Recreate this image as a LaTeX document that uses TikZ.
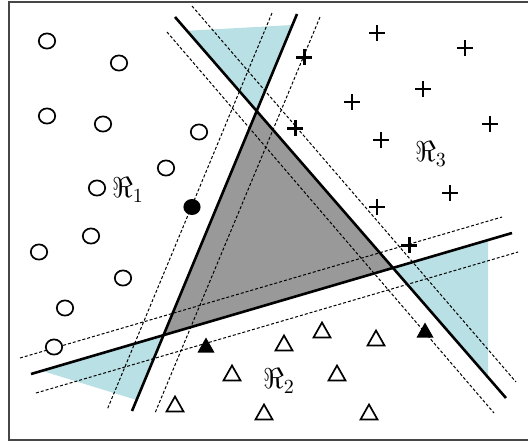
\documentclass[tikz,border=0pt]{standalone}
\usepackage{amssymb}
\definecolor{marginblue}{RGB}{185,224,228}
\definecolor{coregray}{RGB}{153,153,153}
\definecolor{framegray}{RGB}{70,70,70}
\begin{document}
\begin{tikzpicture}[
  x=0.5pt, y=-0.5pt,
  separator/.style={line width=1.3pt},
  marginline/.style={line width=0.5pt, dash pattern=on 1.5pt off 1pt},
  hollowmark/.style={line width=0.85pt},
  supportmark/.style={line width=1.5pt},
  every node/.style={font=\Large, inner sep=0pt}
]
  \clip (0,0) rectangle (528,441);
  % corners of the inner triangle
  \coordinate (ab) at (256.7,111.0);
  \coordinate (bc) at (163.4,335.4);
  \coordinate (ac) at (393.3,268.6);

  % ambiguous zones
  \fill[marginblue] (187,30.8) -- (292.4,25) -- (ab) -- cycle;
  \fill[marginblue] (42,370.8) -- (bc) -- (136.6,400) -- cycle;
  \fill[marginblue] (ac) -- (488,240.7) -- (488,377.3) -- cycle;
  \fill[coregray] (ab) -- (bc) -- (ac) -- cycle;

  % margins
  \draw[marginline] (192,6) -- (516,382);
  \draw[marginline] (167,32) -- (494,413);
  \draw[marginline] (272,13) -- (107,410);
  \draw[marginline] (320,17) -- (155,413);
  \draw[marginline] (20,358) -- (502,217);
  \draw[marginline] (36,393) -- (518,252);

  % separating lines
  \draw[separator] (175,17) -- (506,398);
  \draw[separator] (297,14) -- (132,411);
  \draw[separator] (31,374) -- (512,233);

  % class 1
  \foreach \px/\py in {47/41, 119/63, 47/116, 103/124, 199/132, 166/168,
                       97/188, 91/236, 39/252, 123/278, 65/308, 54/347}
    \draw[hollowmark, fill=white] (\px,\py) ellipse [x radius=4.1pt, y radius=3.8pt];
  \fill (192,207) ellipse [x radius=4.3pt, y radius=4pt];

  % class 3
  \foreach \px/\py in {377/33, 465/48, 423/89, 352/102, 490/124, 381/140,
                       450/193, 377/207}
    \draw[hollowmark] (\px-8,\py) -- (\px+8,\py) (\px,\py-8) -- (\px,\py+8);
  \foreach \px/\py in {304/57, 295/128, 409/245}
    \draw[supportmark] (\px-8,\py) -- (\px+8,\py) (\px,\py-8) -- (\px,\py+8);

  % class 2
  \foreach \px/\py in {322/330, 284/343, 376/338, 232/373, 337/373,
                       175/404, 264/412, 369/412}
    \draw[hollowmark, line join=miter] (\px-8.5,\py+7.5) -- (\px+8.5,\py+7.5)
      -- (\px,\py-7.5) -- cycle;
  \foreach \px/\py in {206/345, 425/330}
    \fill (\px-8.5,\py+7.5) -- (\px+8.5,\py+7.5) -- (\px,\py-7.5) -- cycle;

  % region labels
  \node (r1) at (128,190) {$\Re_1$};
  \node (r2) at (279,381) {$\Re_2$};
  \node (r3) at (431,154) {$\Re_3$};

  \draw[framegray, line width=0.8pt] (9,2) rectangle (545,440);
\end{tikzpicture}
\end{document}
